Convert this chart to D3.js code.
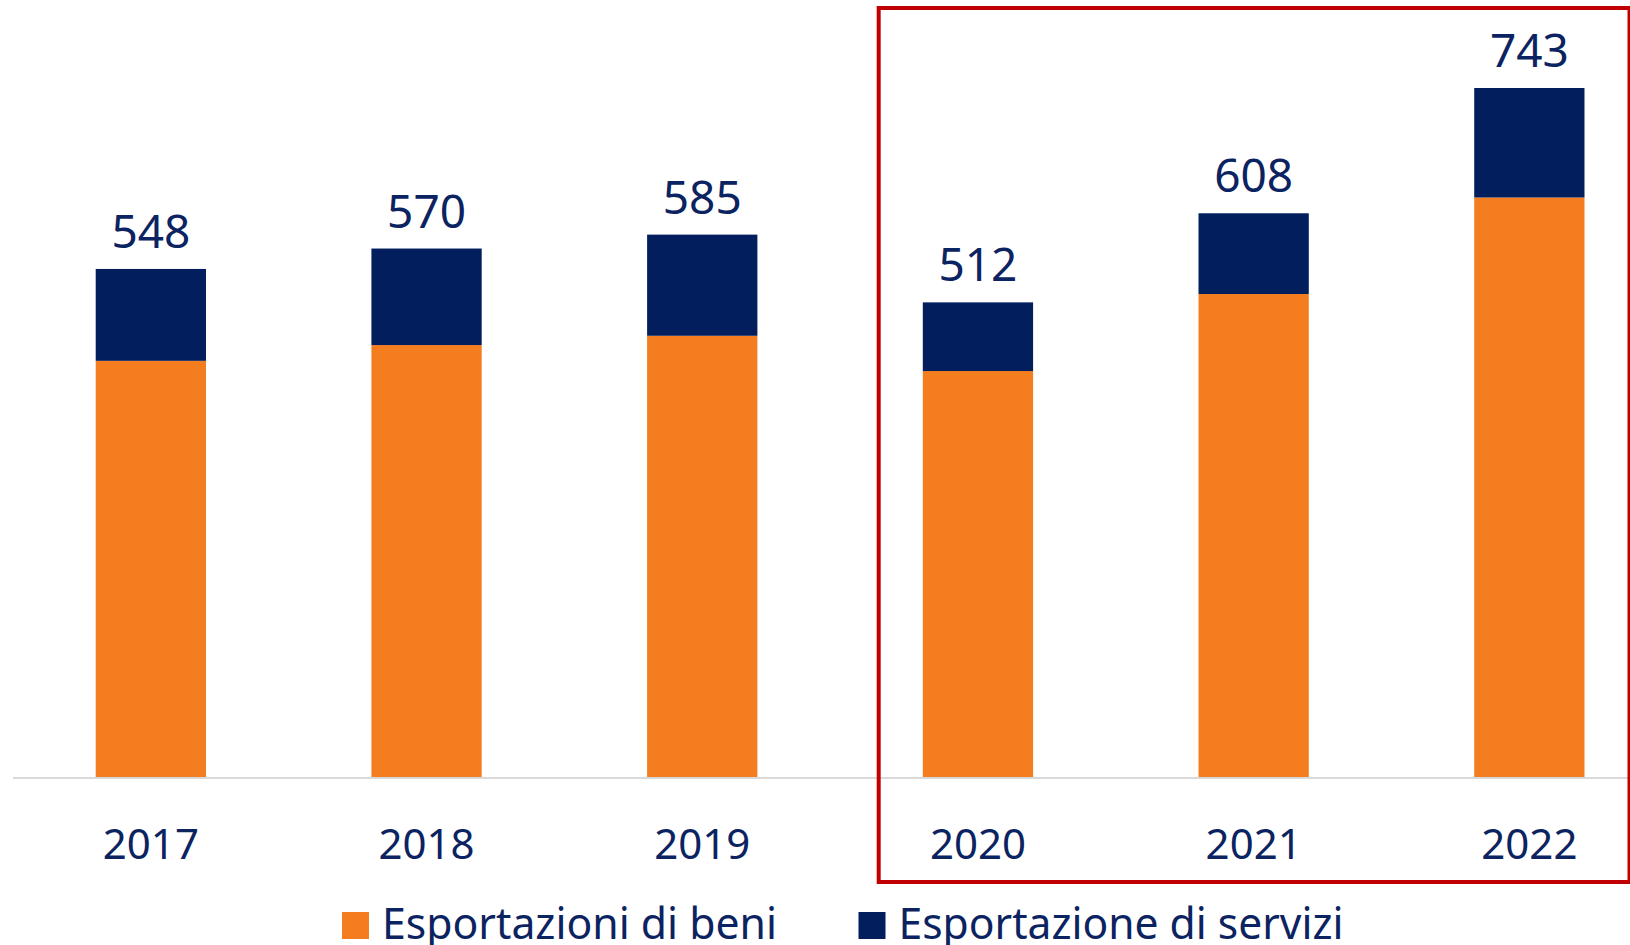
<!DOCTYPE html>
<html>
<head>
<meta charset="utf-8">
<script src="https://cdn.jsdelivr.net/npm/d3@7"></script>
<style>
  body { margin: 0; background: #fff; }
  svg text { font-family: "Noto Sans", "DejaVu Sans", sans-serif; fill: #0b2360; }
</style>
</head>
<body>
<div id="chart"></div>
<script>
// data (billion euro)
var years = ["2017", "2018", "2019", "2020", "2021", "2022"];
var beni = [449, 466, 476, 438, 521, 625];
var servizi = [99, 104, 109, 74, 87, 118];
var totals = [548, 570, 585, 512, 608, 743];
var seriesNames = ["Esportazioni di beni", "Esportazione di servizi"];
var colors = ["#f47d20", "#021e5d"];

var width = 1630, height = 945;

var svg = d3.select("#chart").append("svg")
	.attr("width", width)
	.attr("height", height);

var rows = years.map(function(y, i) {
	return {year: y, beni: beni[i], servizi: servizi[i], total: totals[i]};
});

var x = d3.scaleBand()
	.domain(years)
	.range([13, 13 + 6 * 275.7])
	.paddingInner(0.6)
	.paddingOuter(0.3);

var y = d3.scaleLinear()
	.domain([0, 743])
	.range([777.5, 88]);

var stack = d3.stack().keys(["beni", "servizi"]);
var layers = stack(rows);

// bars
svg.selectAll("g.layer")
	.data(layers)
	.enter().append("g")
	.attr("class", "layer")
	.attr("fill", function(d, i) { return colors[i]; })
	.selectAll("rect")
	.data(function(d) { return d; })
	.enter().append("rect")
	.attr("x", function(d) { return x(d.data.year); })
	.attr("width", x.bandwidth())
	.attr("y", function(d) { return y(d[1]); })
	.attr("height", function(d) { return y(d[0]) - y(d[1]); });

// baseline
svg.append("line")
	.attr("x1", 13).attr("x2", width)
	.attr("y1", y(0) + 0.5).attr("y2", y(0) + 0.5)
	.attr("stroke", "#d9d9d9")
	.attr("stroke-width", 2);

// total labels
svg.selectAll("text.total")
	.data(rows)
	.enter().append("text")
	.attr("class", "total")
	.attr("x", function(d) { return x(d.year) + x.bandwidth() / 2; })
	.attr("y", function(d) { return y(d.total) - 21; })
	.attr("text-anchor", "middle")
	.style("font-size", "46px")
	.text(function(d) { return d.total; });

// x axis labels
var xAxis = d3.axisBottom(x).tickSize(0).tickPadding(0);
var axisG = svg.append("g")
	.attr("transform", "translate(0," + 859 + ")")
	.call(xAxis);
axisG.select(".domain").remove();
axisG.selectAll("text")
	.attr("dy", 0)
	.attr("fill", "#0b2360")
	.style("font-size", "42px")
	.style("font-family", "'Noto Sans', sans-serif");

// highlight box around 2020-2022
var step = x.step();
svg.append("rect")
	.attr("x", x("2020") - step * 0.16)
	.attr("y", 8)
	.attr("width", 1629.5 - (x("2020") - step * 0.16))
	.attr("height", 874)
	.attr("fill", "none")
	.attr("stroke", "#c00000")
	.attr("stroke-width", 4);

// legend
var legendX = [342, 858.5];
var legend = svg.selectAll("g.legend")
	.data(seriesNames)
	.enter().append("g")
	.attr("class", "legend")
	.attr("transform", function(d, i) { return "translate(" + legendX[i] + ",912)"; });

legend.append("rect")
	.attr("width", 27)
	.attr("height", 27)
	.attr("fill", function(d, i) { return colors[i]; });

legend.append("text")
	.attr("x", 40)
	.attr("y", 27)
	.style("font-size", "44px")
	.attr("textLength", function(d, i) { return [395, 445][i]; })
	.attr("lengthAdjust", "spacingAndGlyphs")
	.text(function(d) { return d; });
</script>
</body>
</html>
